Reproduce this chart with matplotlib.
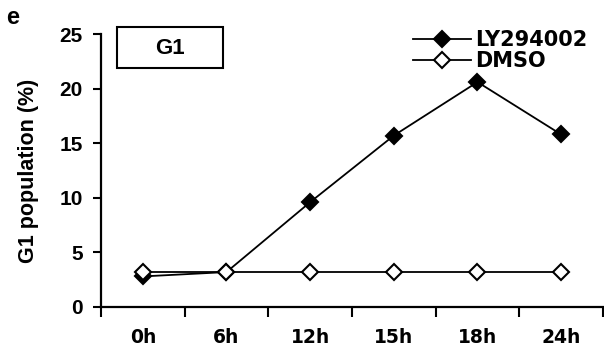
import matplotlib
matplotlib.use("Agg")
import matplotlib.pyplot as plt
from matplotlib.patches import Rectangle

categories = ["0h", "6h", "12h", "15h", "18h", "24h"]
ly294002 = [2.8, 3.2, 9.6, 15.7, 20.6, 15.8]
dmso = [3.2, 3.2, 3.2, 3.2, 3.2, 3.2]
yticks = [0, 5, 10, 15, 20, 25]

W, H = 604, 348
fig = plt.figure(figsize=(W / 100, H / 100), dpi=100)
ax = fig.add_axes([101 / W, 1 - 307 / H, (603 - 101) / W, (307 - 34) / H])

x = list(range(len(categories)))
ax.plot(x, ly294002, color="black", lw=1.3, marker="D", ms=8.5,
        mfc="black", mec="black", mew=1.5, label="LY294002", zorder=3)
ax.plot(x, dmso, color="black", lw=1.3, marker="D", ms=8.5,
        mfc="white", mec="black", mew=1.5, label="DMSO", zorder=4)

ax.set_xlim(-0.5, len(categories) - 0.5)
ax.set_ylim(0, 25)
ax.set_yticks(yticks)
ax.set_yticklabels([str(v) for v in yticks], fontsize=15, fontweight="bold",
                   family="Liberation Sans")
ax.set_xticks([i - 0.5 for i in range(len(categories) + 1)])
ax.set_xticklabels([])
ax.set_xticks(x, minor=True)
ax.set_xticklabels(categories, minor=True, fontsize=13.5, fontweight="bold",
                   family="DejaVu Sans")
ax.tick_params(axis="x", which="major", direction="out", length=7, width=1.5)
ax.tick_params(axis="x", which="minor", length=0, pad=15)
ax.tick_params(axis="y", direction="out", length=6, width=1.5, pad=7)
for s in ["top", "right"]:
    ax.spines[s].set_visible(False)
for s in ["left", "bottom"]:
    ax.spines[s].set_linewidth(1.6)

ax.set_ylabel("G1 population (%)", fontsize=15.5, fontweight="bold",
              family="Liberation Sans", labelpad=15)

leg = ax.legend(loc="upper left", bbox_to_anchor=(413 / W, 1 - 30 / H),
                bbox_transform=fig.transFigure, frameon=False,
                prop={"family": "DejaVu Sans", "weight": "bold", "size": 15},
                handlelength=2.8, handletextpad=0.2, labelspacing=0.05,
                borderpad=0, borderaxespad=0)

fig.add_artist(Rectangle((117 / W, 1 - 68 / H), 106 / W, 41 / H,
                         transform=fig.transFigure, fill=False, lw=1.5,
                         edgecolor="black"))
fig.text(170 / W, 1 - 48 / H, "G1", ha="center", va="center", fontsize=16,
         fontweight="bold", family="Liberation Sans")
fig.text(6 / W, 1 - 17 / H, "e", ha="left", va="center", fontsize=17,
         fontweight="bold", family="Liberation Sans")

fig.savefig("out.png", dpi=100)
